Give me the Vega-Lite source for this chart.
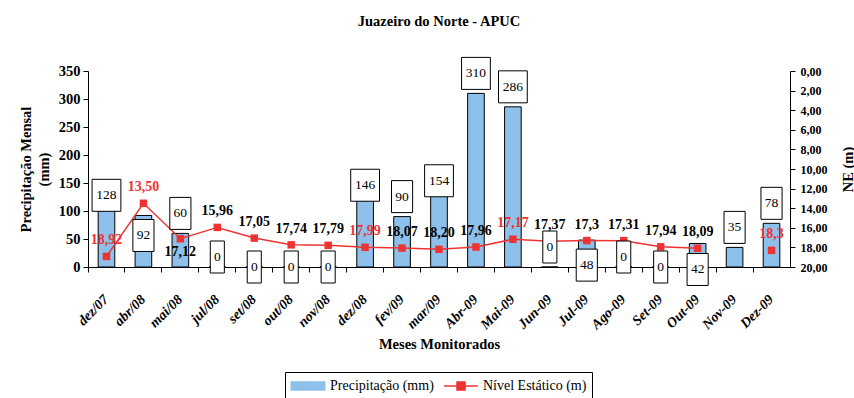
{
  "$schema": "https://vega.github.io/schema/vega-lite/v6.json",
  "autosize": {"type": "none"},
  "width": 702,
  "height": 196,
  "padding": {"left": 88, "top": 71, "right": 64, "bottom": 131},
  "background": "white",
  "title": {"text": "Juazeiro do Norte - APUC", "font": "Liberation Serif", "fontSize": 14.5, "fontWeight": "bold", "color": "black", "anchor": "middle", "baseline": "bottom", "offset": 12},
  "config": {
    "locale": {"number": {"decimal": ",", "thousands": ".", "grouping": [3], "currency": ["R$", ""]}},
    "view": {"stroke": null},
    "axis": {"domainColor": "black", "tickColor": "black", "labelColor": "black", "titleColor": "black", "grid": false, "labelFont": "Liberation Serif", "titleFont": "Liberation Serif", "labelFontSize": 14.5, "titleFontSize": 14.5, "labelFontWeight": "bold", "titleFontWeight": "bold", "domainWidth": 1, "tickWidth": 1, "tickSize": 5, "zindex": 0},
    "legend": {"title": null, "orient": "none", "legendX": 197, "legendY": 301, "direction": "horizontal",
      "strokeColor": "black", "fillColor": "white", "padding": 5, "columnPadding": 7,
      "symbolSize": 256, "symbolOffset": 9, "labelFont": "Liberation Serif", "labelFontSize": 14, "labelColor": "black", "labelOffset": 13}
  },
  "data": {"values": [
    {"mes": "dez/07", "precip": 128, "ne": 18.92, "ne_label": "18,92"},
    {"mes": "abr/08", "precip": 92, "ne": 13.50, "ne_label": "13,50"},
    {"mes": "mai/08", "precip": 60, "ne": 17.12, "ne_label": "17,12"},
    {"mes": "jul/08", "precip": 0, "ne": 15.96, "ne_label": "15,96"},
    {"mes": "set/08", "precip": 0, "ne": 17.05, "ne_label": "17,05"},
    {"mes": "out/08", "precip": 0, "ne": 17.74, "ne_label": "17,74"},
    {"mes": "nov/08", "precip": 0, "ne": 17.79, "ne_label": "17,79"},
    {"mes": "dez/08", "precip": 146, "ne": 17.99, "ne_label": "17,99"},
    {"mes": "fev/09", "precip": 90, "ne": 18.07, "ne_label": "18,07"},
    {"mes": "mar/09", "precip": 154, "ne": 18.20, "ne_label": "18,20"},
    {"mes": "Abr-09", "precip": 310, "ne": 17.96, "ne_label": "17,96"},
    {"mes": "Mai-09", "precip": 286, "ne": 17.17, "ne_label": "17,17"},
    {"mes": "Jun-09", "precip": 0, "ne": 17.37, "ne_label": "17,37"},
    {"mes": "Jul-09", "precip": 48, "ne": 17.3, "ne_label": "17,3"},
    {"mes": "Ago-09", "precip": 0, "ne": 17.31, "ne_label": "17,31"},
    {"mes": "Set-09", "precip": 0, "ne": 17.94, "ne_label": "17,94"},
    {"mes": "Out-09", "precip": 42, "ne": 18.09, "ne_label": "18,09"},
    {"mes": "Nov-09", "precip": 35, "ne": null, "ne_label": ""},
    {"mes": "Dez-09", "precip": 78, "ne": 18.3, "ne_label": "18,3"}
  ]},
  "encoding": {
    "x": {"field": "mes", "type": "nominal", "sort": null,
      "scale": {"paddingInner": 0, "paddingOuter": 0},
      "axis": {"title": "Meses Monitorados", "labelAngle": -45, "labelFontSize": 14, "labelFontStyle": "italic", "bandPosition": 0, "labelPadding": 20, "labelOffset": -5, "titlePadding": 6}}
  },
  "layer": [
    {
      "mark": {"type": "bar", "width": {"band": 0.45}, "stroke": "black", "strokeWidth": 1},
      "encoding": {
        "y": {"field": "precip", "type": "quantitative", "scale": {"domain": [0, 350], "nice": false},
          "axis": {"title": ["Precipitação Mensal", "(mm)"], "orient": "left", "values": [0, 50, 100, 150, 200, 250, 300, 350], "labelPadding": 3, "titlePadding": 7, "titleLineHeight": 18}},
        "color": {"datum": "Precipitação (mm)", "type": "nominal",
          "scale": {"domain": ["Precipitação (mm)", "Nível Estático (m)"], "range": ["#8dc0ea", "#ee3333"]},
          "legend": {"encode": {"symbols": {"update": {
              "shape": {"signal": "datum.value === 'Precipitação (mm)' ? 'M-2.1,-0.5H2.1V0.5H-2.1Z' : 'M-2.1,0H2.1M-0.5,-0.5H0.5V0.5H-0.5Z'"},
              "strokeWidth": {"value": 1.5}
            }}}}}
      }
    },
    {
      "mark": {"type": "line", "strokeWidth": 1.5, "invalid": "break-paths-filter-domains"},
      "encoding": {
        "y": {"field": "ne", "type": "quantitative", "scale": {"domain": [0, 20], "reverse": true, "nice": false},
          "axis": {"title": "NE (m)", "orient": "right", "values": [0, 2, 4, 6, 8, 10, 12, 14, 16, 18, 20], "format": ".2f", "labelFontSize": 12, "titleAngle": -90, "titleBaseline": "top", "labelPadding": 5, "titlePadding": 14,
            "encode": {"ticks": {"update": {"x": {"value": -5}}}}}},
        "color": {"datum": "Nível Estático (m)", "type": "nominal",
          "legend": {"encode": {"symbols": {"update": {
              "shape": {"signal": "datum.value === 'Precipitação (mm)' ? 'M-2.1,-0.5H2.1V0.5H-2.1Z' : 'M-2.1,0H2.1M-0.5,-0.5H0.5V0.5H-0.5Z'"},
              "strokeWidth": {"value": 1.5}
            }}}}}
      }
    },
    {
      "mark": {"type": "point", "shape": "square", "filled": true, "size": 56, "opacity": 1},
      "encoding": {
        "y": {"field": "ne", "type": "quantitative", "scale": {"domain": [0, 20], "reverse": true, "nice": false}, "axis": null},
        "color": {"datum": "Nível Estático (m)", "type": "nominal",
          "legend": {"encode": {"symbols": {"update": {
              "shape": {"signal": "datum.value === 'Precipitação (mm)' ? 'M-2.1,-0.5H2.1V0.5H-2.1Z' : 'M-2.1,0H2.1M-0.5,-0.5H0.5V0.5H-0.5Z'"},
              "strokeWidth": {"value": 1.5}
            }}}}}
      }
    },
    {
      "mark": {"type": "point", "filled": true, "fill": "white", "stroke": "black", "strokeWidth": 1, "size": 1024, "opacity": 1,
        "yOffset": {"expr": "indexof(['mai/08','fev/09','Abr-09','Mai-09','Nov-09','Dez-09','Jun-09'], datum.mes) >= 0 ? -20 : datum.mes === 'abr/08' ? 20 : datum.mes === 'Jul-09' ? 25 : datum.mes === 'Out-09' ? 26 : indexof(['jul/08','Ago-09'], datum.mes) >= 0 ? -10 : 0"}},
      "encoding": {
        "y": {"field": "precip", "type": "quantitative", "scale": {"domain": [0, 350], "nice": false}, "axis": null},
        "shape": {"condition": [
          {"test": "datum.precip >= 100", "value": "M-0.9,-1H0.9V1H-0.9Z"},
          {"test": "datum.precip >= 10", "value": "M-0.66,-1H0.66V1H-0.66Z"}],
          "value": "M-0.44,-1H0.44V1H-0.44Z"}
      }
    },
    {
      "mark": {"type": "text", "font": "Liberation Serif", "fontSize": 13.5, "color": "black", "baseline": "middle", "align": "center",
        "yOffset": {"expr": "indexof(['mai/08','fev/09','Abr-09','Mai-09','Nov-09','Dez-09','Jun-09'], datum.mes) >= 0 ? -20 : datum.mes === 'abr/08' ? 20 : datum.mes === 'Jul-09' ? 25 : datum.mes === 'Out-09' ? 26 : indexof(['jul/08','Ago-09'], datum.mes) >= 0 ? -10 : 0"}},
      "encoding": {
        "y": {"field": "precip", "type": "quantitative", "scale": {"domain": [0, 350], "nice": false}, "axis": null},
        "text": {"field": "precip", "type": "quantitative"}
      }
    },
    {
      "mark": {"type": "text", "font": "Liberation Serif", "fontSize": 14, "fontWeight": "bold", "baseline": "middle", "align": "center",
        "yOffset": {"expr": "datum.mes === 'mai/08' ? 13 : -16"},
        "fill": {"expr": "indexof(['dez/07','abr/08','dez/08','Mai-09','Dez-09'], datum.mes) >= 0 ? '#ee3333' : '#000000'"}},
      "encoding": {
        "y": {"field": "ne", "type": "quantitative", "scale": {"domain": [0, 20], "reverse": true, "nice": false}, "axis": null},
        "text": {"field": "ne_label", "type": "nominal"}
      }
    }
  ],
  "resolve": {"scale": {"y": "independent"}}
}
